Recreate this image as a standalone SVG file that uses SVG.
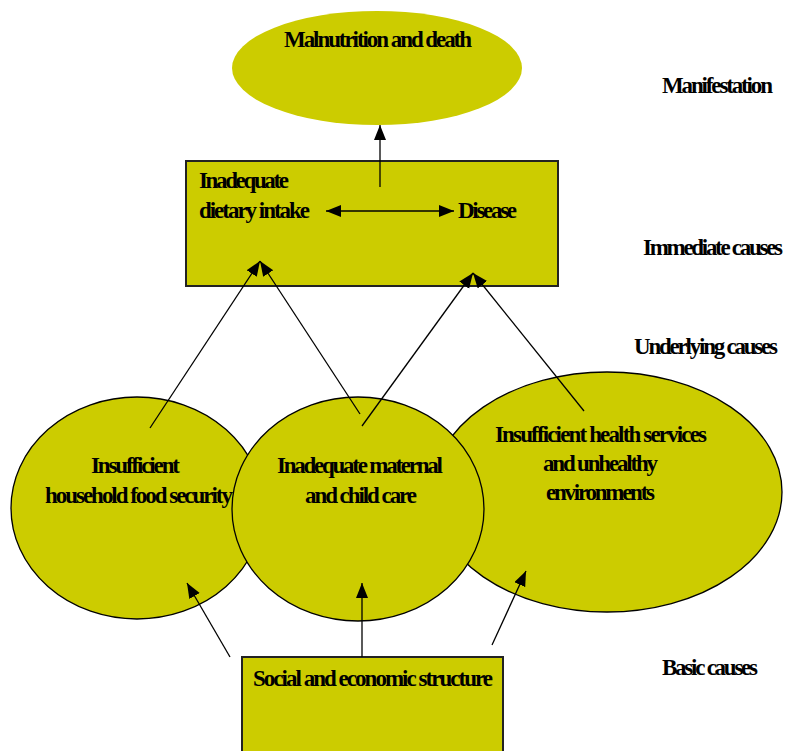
<svg xmlns="http://www.w3.org/2000/svg" width="785" height="751" viewBox="0 0 785 751">
<style>
.fill{fill:#CCCC00}
.sh{stroke:#000;stroke-width:1.3}
.box{stroke:#222;stroke-width:2}
text{font-family:"Liberation Serif","Times New Roman",serif;font-weight:bold;font-size:23px;fill:#000}
.con line{stroke:#000;stroke-width:1.3;fill:none}
</style>
<defs>
<marker id="ah" markerUnits="userSpaceOnUse" markerWidth="16" markerHeight="13" refX="15" refY="6" orient="auto">
<path d="M0,0 L15,6 L0,12 z" fill="#000"/>
</marker>
<marker id="ahs" markerUnits="userSpaceOnUse" markerWidth="16" markerHeight="13" refX="0" refY="6" orient="auto">
<path d="M15,0 L0,6 L15,12 z" fill="#000"/>
</marker>
</defs>
<rect width="785" height="751" fill="#fff"/>
<g id="manifestation">
<ellipse class="fill" cx="377" cy="68" rx="145" ry="57"/>
<text x="284" y="47" textLength="188" lengthAdjust="spacing">Malnutrition and death</text>
</g>
<g id="immediate">
<rect class="fill box" x="186" y="161" width="372" height="125"/>
<text x="199" y="188" textLength="90" lengthAdjust="spacing">Inadequate</text>
<text x="199" y="218" textLength="111" lengthAdjust="spacing">dietary intake</text>
<text x="458" y="218" textLength="59" lengthAdjust="spacing">Disease</text>
</g>
<g id="health">
<ellipse class="fill sh" cx="607" cy="492" rx="175" ry="120"/>
</g>
<g id="food">
<ellipse class="fill sh" cx="137" cy="508" rx="126" ry="111"/>
</g>
<g id="care">
<ellipse class="fill sh" cx="358" cy="509" rx="126" ry="112"/>
</g>
<g id="basic">
<rect class="fill box" x="242" y="657" width="261" height="110"/>
<text x="253" y="686" textLength="240" lengthAdjust="spacing">Social and economic structure</text>
</g>
<g id="labels-nodes">
<text x="91" y="473" textLength="89" lengthAdjust="spacing">Insufficient</text>
<text x="45" y="503" textLength="188" lengthAdjust="spacing">household food security</text>
<text x="277" y="473" textLength="166" lengthAdjust="spacing">Inadequate maternal</text>
<text x="305" y="503" textLength="112" lengthAdjust="spacing">and child care</text>
<text x="495" y="442" textLength="212" lengthAdjust="spacing">Insufficient health services</text>
<text x="543" y="471" textLength="115" lengthAdjust="spacing">and unhealthy</text>
<text x="546" y="500" textLength="109" lengthAdjust="spacing">environments</text>
</g>
<g id="levels">
<text x="662" y="93" textLength="111" lengthAdjust="spacing">Manifestation</text>
<text x="643" y="255" textLength="140" lengthAdjust="spacing">Immediate causes</text>
<text x="634" y="354" textLength="144" lengthAdjust="spacing">Underlying causes</text>
<text x="662" y="675" textLength="96" lengthAdjust="spacing">Basic causes</text>
</g>
<g class="con" id="connectors">
<line x1="380" y1="187" x2="380" y2="125" marker-end="url(#ah)"/>
<line x1="326" y1="211" x2="454" y2="211" marker-start="url(#ahs)" marker-end="url(#ah)"/>
<line x1="150" y1="428" x2="260" y2="261" marker-end="url(#ah)"/>
<line x1="360" y1="414" x2="260" y2="261" marker-end="url(#ah)"/>
<line x1="362" y1="426" x2="473" y2="273" marker-end="url(#ah)"/>
<line x1="584" y1="411" x2="473" y2="273" marker-end="url(#ah)"/>
<line x1="230" y1="657" x2="187" y2="583" marker-end="url(#ah)"/>
<line x1="362" y1="657" x2="362" y2="583" marker-end="url(#ah)"/>
<line x1="492" y1="645" x2="526" y2="571" marker-end="url(#ah)"/>
</g>
</svg>
